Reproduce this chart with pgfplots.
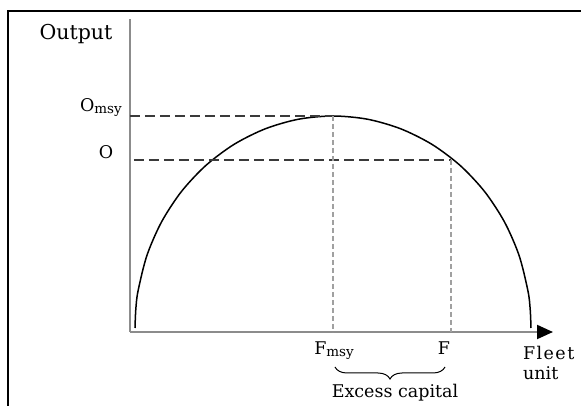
\documentclass[border=0pt]{standalone}
\usepackage{fontspec}
\setmainfont{DejaVu Serif}
\usepackage{pgfplots}
\pgfplotsset{compat=1.18}
\usetikzlibrary{arrows.meta,decorations.pathreplacing}
\definecolor{axisgray}{HTML}{8C8C8C}
\definecolor{vdash}{HTML}{A0A0A0}
\definecolor{hdash}{HTML}{3A3A3A}
\newcommand{\lab}{\fontsize{17.5}{20}\selectfont}
\newcommand{\sub}[1]{\raisebox{-1.5pt}{\fontsize{13.5}{14}\selectfont #1}}

\begin{document}
\begin{tikzpicture}
\begin{axis}[
  x=1pt, y=1pt,
  xmin=0, xmax=423, ymin=0, ymax=313,
  axis lines=left,
  x axis line style={draw=axisgray, line width=2pt,
    -{Triangle[length=16pt,width=14pt,black]}},
  y axis line style={draw=axisgray, line width=2pt, -},
  ticks=none,
  clip=false,
]
% yield curve
\addplot[black, line width=1.5pt, smooth, tension=0.5] coordinates {
  (5,4) (5.8,22.5) (8.0,40.8) (16.9,76.5) (31.5,110) (51.3,140.3)
  (75.7,166.4) (104,187.6) (135.3,203.2) (168.6,212.8) (203,216)
  (237.4,212.8) (270.7,203.2) (302,187.6) (330.3,166.4) (354.7,140.3)
  (374.5,110) (389.1,76.5) (398,40.8) (400.2,22.5) (401,4)};
% guide lines
\addplot[hdash, line width=1.3pt, dash pattern=on 10pt off 5pt]
  coordinates {(0,216) (203,216)};
\addplot[hdash, line width=1.3pt, dash pattern=on 10pt off 5pt]
  coordinates {(4,172) (321,172)};
\addplot[vdash, line width=1.5pt, dash pattern=on 5pt off 3pt]
  coordinates {(203,216) (203,0)};
\addplot[vdash, line width=1.5pt, dash pattern=on 5pt off 3pt]
  coordinates {(321,172) (321,0)};

\node[font=\fontsize{20.5}{24}\selectfont] at (axis cs:-54,298) {Output};
\node[font=\lab, anchor=base east, inner sep=0pt] at (axis cs:-8,220) {O\sub{msy}};
\node[font=\lab, inner sep=0pt] at (axis cs:-24,180) {O};
\node[font=\lab, anchor=north, inner sep=0pt] at (axis cs:204,-10) {F\sub{msy}};
\node[font=\lab, anchor=north, inner sep=0pt] at (axis cs:314,-10) {F};
\draw[black, line width=1pt, decorate, decoration={brace, mirror, amplitude=12pt}]
  (axis cs:205,-35) -- (axis cs:315,-35);
\node[font=\lab, inner sep=0pt] at (axis cs:265,-61) {Excess capital};
\node[font=\lab, anchor=north west, align=left, inner sep=0pt]
  at (axis cs:393,-14) {\addfontfeature{LetterSpace=8}Fleet\\unit};

% outer frame (top and left edges)
\draw[black, line width=1.5pt] (axis cs:-122,-74) -- (axis cs:-122,321) -- (axis cs:451,321);
\coordinate (bbsw) at (axis cs:-130,-74);
\coordinate (bbne) at (axis cs:451,332);
\end{axis}
\pgfresetboundingbox
\path[use as bounding box] (bbsw) rectangle (bbne);
\end{tikzpicture}
\end{document}
